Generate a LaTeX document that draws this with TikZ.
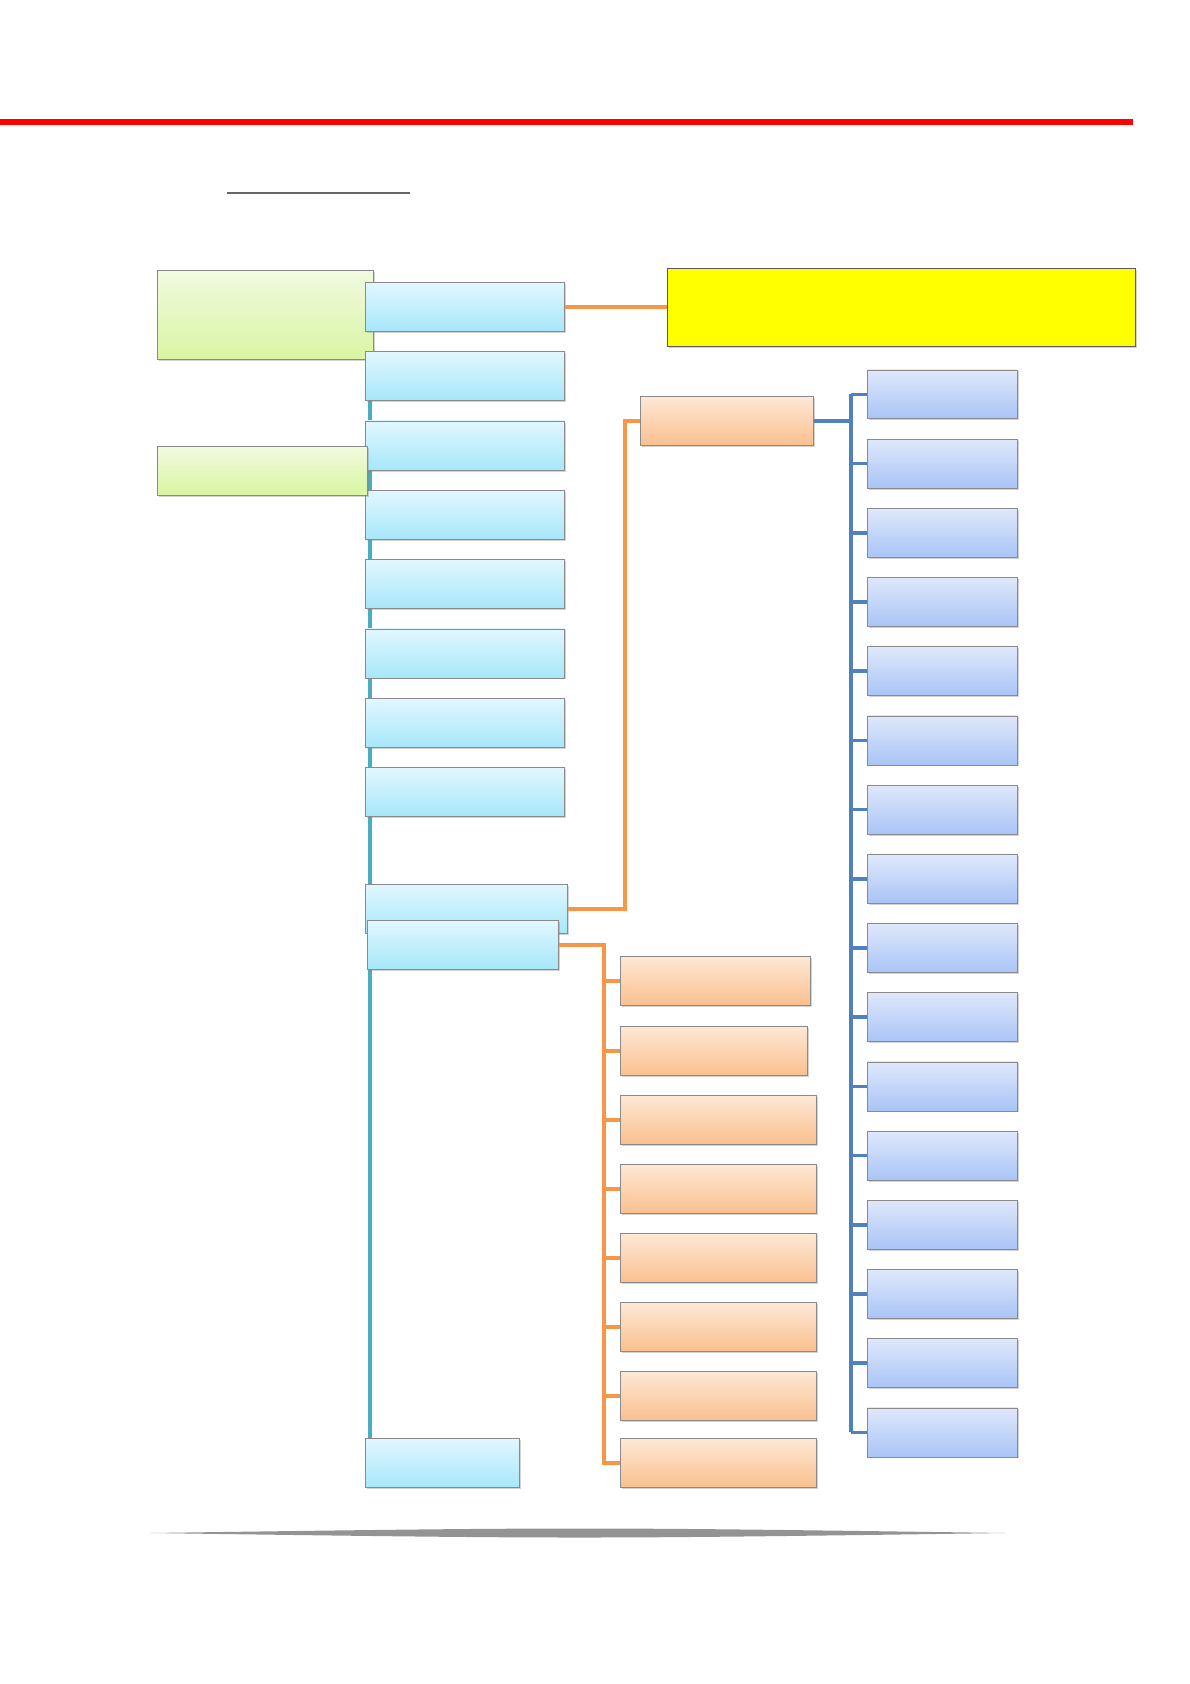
\documentclass[tikz,border=0pt]{standalone}
\usepackage{tikz}
\usetikzlibrary{positioning,backgrounds,shadows,calc}
\definecolor{Rule}{HTML}{FF0000}
\definecolor{Frame}{HTML}{8A8A8A}
\definecolor{TealLine}{HTML}{4BACC6}
\definecolor{OrangeLine}{HTML}{F79646}
\definecolor{BlueLine}{HTML}{4F81BD}
\definecolor{CyanTop}{HTML}{E2F7FE}
\definecolor{CyanBot}{HTML}{A6E7FA}
\definecolor{GreenTop}{HTML}{F1FADF}
\definecolor{GreenBot}{HTML}{D9F5A2}
\definecolor{PeachTop}{HTML}{FDE8D6}
\definecolor{PeachBot}{HTML}{FAC08F}
\definecolor{LavTop}{HTML}{DFE8FB}
\definecolor{LavBot}{HTML}{A9C4F6}
\definecolor{Banner}{HTML}{FFFF00}
\tikzset{
  box/.style={draw=Frame,inner sep=0pt,anchor=north west,
    drop shadow={shadow xshift=0.7pt,shadow yshift=-0.9pt,opacity=0.35}},
  cyanbox/.style={box,top color=CyanTop,bottom color=CyanBot,minimum height=0.98cm,minimum width=3.98cm},
  greenbox/.style={box,top color=GreenTop,bottom color=GreenBot},
  peachbox/.style={box,top color=PeachTop,bottom color=PeachBot,minimum height=0.98cm},
  lavbox/.style={box,top color=LavTop,bottom color=LavBot,minimum height=0.98cm,minimum width=3.0cm},
  tealwire/.style={TealLine,line width=2.2pt},
  orangewire/.style={OrangeLine,line width=2pt},
  bluewire/.style={BlueLine,line width=2pt}
}

\begin{document}
\begin{tikzpicture}[x=0.02cm,y=-0.02cm]
  \useasboundingbox (0,0) rectangle (1190,1684);
  % page rules
  \fill[Rule] (0,119) rectangle (1133,125);
  \draw[gray!80!black,line width=0.8pt] (227,193) -- (410,193);
  \fill[gray!85] (150,1533) .. controls (580,1527) .. (1006,1533) .. controls (580,1539) .. cycle;

  % left column
  \node[greenbox,minimum width=4.32cm,minimum height=1.78cm] (head) at (157,270) {};
  \foreach \i in {1,...,8}
    \node[cyanbox] (c\i) at (365,{282+69.3*(\i-1)}) {};
  \node[cyanbox,minimum width=4.04cm] (c9) at (365,884) {};
  \node[cyanbox,minimum width=3.82cm] (c10) at (367,920) {};
  \node[cyanbox,minimum width=3.08cm] (cend) at (365,1438) {};
  \node[greenbox,minimum width=4.2cm,minimum height=0.98cm] (sub) at (157,446) {};

  % yellow banner
  \node[box,fill=Banner,draw=gray!70!black,minimum width=9.36cm,minimum height=1.56cm] (note) at (667,268) {};
  \draw[orangewire] (c1.east) -- (c1.east -| note.west);

  % upper branch
  \node[peachbox,minimum width=3.46cm] (lead) at (640,396) {};
  \coordinate (bus) at (851,0);
  \foreach \k in {1,...,16}
    \node[lavbox] (b\k) at (867,{369.5+69.2*(\k-1)}) {};
  \draw[orangewire] (c9.east) -| ($(lead.west)+(-15,0)$) -- (lead.west);

  % lower branch
  \node[peachbox,minimum width=3.8cm] (p1) at (620,956) {};
  \node[peachbox,minimum width=3.74cm] (p2) at (620,1026) {};
  \node[peachbox,minimum width=3.92cm] (p3) at (620,1095) {};
  \node[peachbox,minimum width=3.92cm] (p4) at (620,1164) {};
  \node[peachbox,minimum width=3.92cm] (p5) at (620,1233) {};
  \node[peachbox,minimum width=3.92cm] (p6) at (620,1302) {};
  \node[peachbox,minimum width=3.92cm] (p7) at (620,1371) {};
  \node[peachbox,minimum width=3.92cm] (p8) at (620,1438) {};

  \begin{scope}[on background layer]
    \draw[tealwire] ([xshift=3pt]c1.south west) -- ([xshift=3pt]cend.north west);
  \end{scope}
  \draw[bluewire] (lead.east) -- (lead.east -| bus);
  \draw[bluewire] (b1.west -| bus) -- (b16.west -| bus);
  \foreach \k in {1,...,16}
    \draw[bluewire] (b\k.west -| bus) -- (b\k.west);
  \coordinate (rail) at (604,0);
  \draw[orangewire] (c10.east) -| (p8.west -| rail) -- (p8.west);
  \foreach \k in {1,...,7}
    \draw[orangewire] (p\k.west -| rail) -- (p\k.west);
\end{tikzpicture}
\end{document}
